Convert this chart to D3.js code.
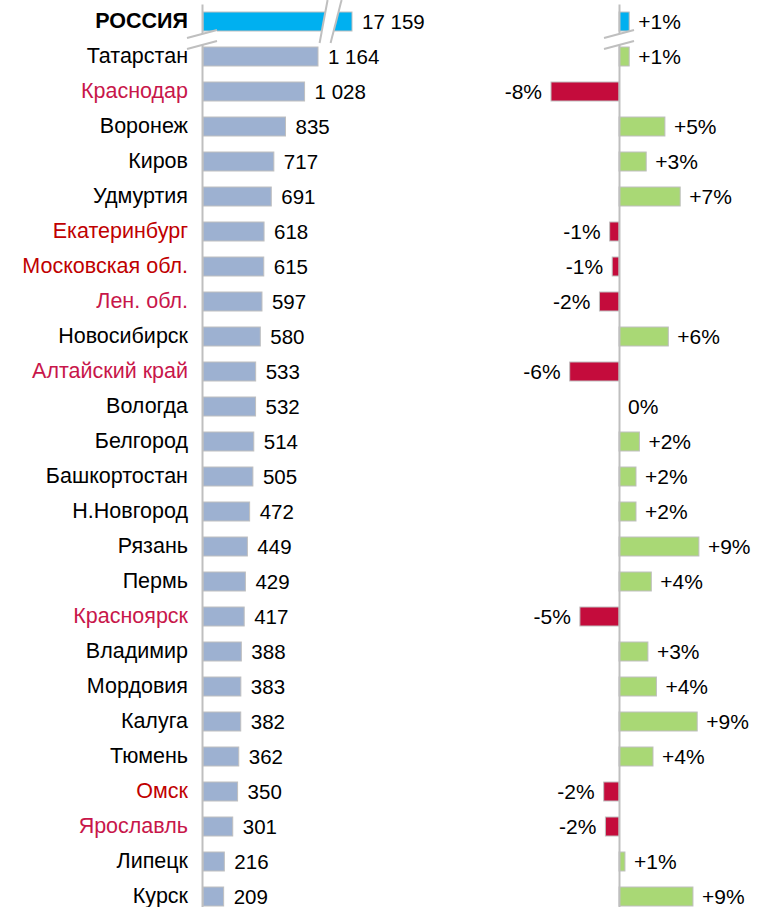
<!DOCTYPE html>
<html>
<head>
<meta charset="utf-8">
<script src="https://cdn.jsdelivr.net/npm/d3@7"></script>
<style>
    body { margin: 0; background: #fff; }
    svg text { font-family: "Liberation Sans", Arial, sans-serif; font-size: 20.5px; }
    svg text.pct { font-size: 21px; }
</style>
</head>
<body>
<div id="chart"></div>
<script>
// regions, top to bottom
var regions = ['РОССИЯ', 'Татарстан', 'Краснодар', 'Воронеж', 'Киров', 'Удмуртия',
    'Екатеринбург', 'Московская обл.', 'Лен. обл.', 'Новосибирск', 'Алтайский край',
    'Вологда', 'Белгород', 'Башкортостан', 'Н.Новгород', 'Рязань', 'Пермь', 'Красноярск',
    'Владимир', 'Мордовия', 'Калуга', 'Тюмень', 'Омск', 'Ярославль', 'Липецк', 'Курск'];
var volumes = [17159, 1164, 1028, 835, 717, 691, 618, 615, 597, 580, 533, 532, 514, 505,
    472, 449, 429, 417, 388, 383, 382, 362, 350, 301, 216, 209];
var changes = [1.2, 1.2, -8.0, 5.4, 3.2, 7.2, -1.1, -0.8, -2.3, 5.8, -5.8, 0, 2.4, 2.0,
    2.0, 9.4, 3.8, -4.6, 3.4, 4.4, 9.2, 4.0, -1.8, -1.6, 0.7, 8.7];
// label colour groups
var redLabels = ['Екатеринбург', 'Московская обл.', 'Омск'];
var crimsonLabels = ['Краснодар', 'Лен. обл.', 'Алтайский край', 'Красноярск', 'Ярославль'];

var width = 766, height = 907;
var grey = '#BFBFBF';

var ru = d3.formatLocale({decimal: ',', thousands: '\u00a0', grouping: [3], currency: ['', '']});
var fmtVol = ru.format(',d');
var fmtPct = function (d) {
    var r = Math.round(d);
    return (r > 0 ? '+' : '') + r + '%';
};

var svg = d3.select('#chart').append('svg')
    .attr('width', width)
    .attr('height', height);

var step = 35, barH = 19;
var y = d3.scaleBand()
    .domain(regions)
    .range([4, 4 + regions.length * step])
    .paddingInner((step - barH) / step)
    .paddingOuter((step - barH) / step / 2);

// left panel, broken scale for the total
var x = d3.scaleLinear()
    .domain([0, 1250, 17159])
    .range([203, 326.5, 352]);

// right panel, % change
var x2 = d3.scaleLinear()
    .domain([-8, 10])
    .range([551, 704]);

var rows = regions.map(function (r, i) {
    return {name: r, vol: volumes[i], chg: changes[i], total: i === 0};
});

// bars left
svg.append('g').selectAll('rect')
    .data(rows)
    .enter().append('rect')
    .attr('x', x(0))
    .attr('y', function (d) { return y(d.name); })
    .attr('width', function (d) { return x(d.vol) - x(0); })
    .attr('height', y.bandwidth())
    .attr('fill', function (d) { return d.total ? '#00B0F0' : '#9DB1D1'; })
    .attr('stroke', grey)
    .attr('stroke-width', 1);

svg.append('g').selectAll('text')
    .data(rows)
    .enter().append('text')
    .attr('x', function (d) { return x(d.vol) + 10; })
    .attr('y', function (d) { return y(d.name) + y.bandwidth() / 2; })
    .attr('dy', '0.35em')
    .attr('fill', '#000')
    .text(function (d) { return fmtVol(d.vol); });

// bars right
svg.append('g').selectAll('rect')
    .data(rows)
    .enter().append('rect')
    .attr('x', function (d) { return x2(Math.min(0, d.chg)); })
    .attr('y', function (d) { return y(d.name); })
    .attr('width', function (d) { return Math.abs(x2(d.chg) - x2(0)); })
    .attr('height', y.bandwidth())
    .attr('fill', function (d) {
        if (d.total) return '#00B0F0';
        return d.chg < 0 ? '#C40C3C' : '#A9D875';
    })
    .attr('stroke', function (d) { return d.chg === 0 ? 'none' : grey; })
    .attr('stroke-width', 1);

svg.append('g').selectAll('text')
    .data(rows)
    .enter().append('text')
    .attr('class', 'pct')
    .attr('x', function (d) { return d.chg < 0 ? x2(d.chg) - 9 : x2(d.chg) + 9; })
    .attr('y', function (d) { return y(d.name) + y.bandwidth() / 2; })
    .attr('dy', '0.35em')
    .attr('text-anchor', function (d) { return d.chg < 0 ? 'end' : 'start'; })
    .attr('fill', '#000')
    .text(function (d) { return fmtPct(d.chg); });

// axes
var yAxis = d3.axisLeft(y).tickSize(0).tickSizeOuter(0).tickPadding(14);
var leftAxis = svg.append('g')
    .attr('transform', 'translate(' + 202 + ',0)')
    .call(yAxis);
leftAxis.select('.domain').attr('stroke', grey).attr('stroke-width', 2);
leftAxis.selectAll('.tick text')
    .style('font-family', '"Liberation Sans", Arial, sans-serif')
    .style('font-size', '21.5px')
    .attr('fill', function (d) {
        if (redLabels.indexOf(d) >= 0) return '#C00000';
        if (crimsonLabels.indexOf(d) >= 0) return '#C8164A';
        return '#000';
    })
    .style('font-weight', function (d) { return d === regions[0] ? 'bold' : 'normal'; });

var rightAxis = svg.append('g')
    .attr('transform', 'translate(' + x2(0) + ',0)')
    .call(d3.axisLeft(y).tickSize(0).tickSizeOuter(0).tickFormat(''));
rightAxis.select('.domain').attr('stroke', grey).attr('stroke-width', 2);

// break marks
function breakMark(p1, p2, off) {
    var pts = [p1, p2, [p2[0], p2[1] + off], [p1[0], p1[1] + off]];
    svg.append('polygon')
        .attr('points', pts.map(function (p) { return p.join(','); }).join(' '))
        .attr('fill', '#fff');
    svg.append('line')
        .attr('x1', p1[0]).attr('y1', p1[1]).attr('x2', p2[0]).attr('y2', p2[1])
        .attr('stroke', grey).attr('stroke-width', 2);
    svg.append('line')
        .attr('x1', p1[0]).attr('y1', p1[1] + off).attr('x2', p2[0]).attr('y2', p2[1] + off)
        .attr('stroke', grey).attr('stroke-width', 2);
}
var gapY = y(regions[0]) + y.bandwidth() + (step - barH) / 2;
breakMark([187, gapY - 1], [217, gapY - 9], 11);
breakMark([604, gapY - 1], [634, gapY - 9], 11);

// slanted break across the total bar
var bx = x(1300);
svg.append('polygon')
    .attr('points', [[bx + 1, 0], [bx + 15, 0], [bx + 4, 43], [bx - 7, 43]]
        .map(function (p) { return p.join(','); }).join(' '))
    .attr('fill', '#fff');
svg.append('line')
    .attr('x1', bx + 1).attr('y1', 0).attr('x2', bx - 7).attr('y2', 43)
    .attr('stroke', grey).attr('stroke-width', 2);
svg.append('line')
    .attr('x1', bx + 15).attr('y1', 0).attr('x2', bx + 4).attr('y2', 43)
    .attr('stroke', grey).attr('stroke-width', 2);
</script>
</body>
</html>
